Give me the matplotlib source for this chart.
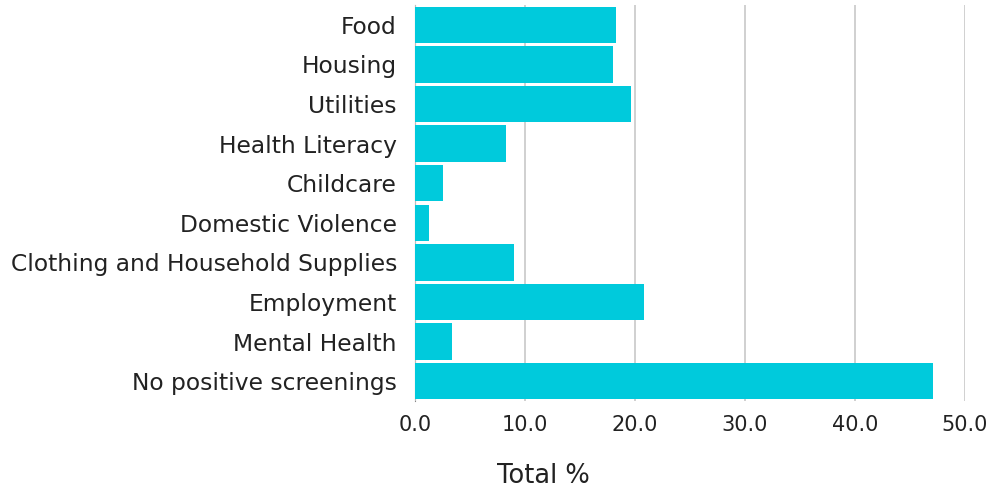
import matplotlib.pyplot as plt

# categories top to bottom, values in percent
categories = ['Food', 'Housing', 'Utilities', 'Health Literacy', 'Childcare',
              'Domestic Violence', 'Clothing and Household Supplies',
              'Employment', 'Mental Health', 'No positive screenings']
values = [18.3, 18.0, 19.6, 8.3, 2.5, 1.3, 9.0, 20.8, 3.4, 47.1]
xticks = [0, 10, 20, 30, 40, 50]

plt.rcParams['font.family'] = ['DejaVu Sans']

fig = plt.figure(figsize=(9.87, 4.91), dpi=100)
ax = fig.add_axes([0.4205, 0.1833, 0.5572, 0.8065])

ypos = list(range(len(categories)))
ax.barh(ypos, values, height=0.92, color='#00CADC', zorder=3)

ax.set_ylim(len(categories) - 0.5, -0.5)
ax.set_xlim(0, 50)
ax.set_yticks(ypos)
ax.set_yticklabels(categories, fontsize=16.8, color='#222222')
ax.set_xticks(xticks)
ax.set_xticklabels([f'{t:.1f}' for t in xticks], fontsize=15, color='#222222')
ax.tick_params(axis='both', length=0)
ax.tick_params(axis='y', pad=13)
ax.tick_params(axis='x', pad=10)

ax.grid(axis='x', color='#c8c8c8', linewidth=1.2, zorder=0)
for side in ['top', 'right', 'bottom']:
    ax.spines[side].set_visible(False)
ax.spines['left'].set_color('#888888')
ax.spines['left'].set_zorder(1)

ax.set_xlabel('Total %', fontsize=18.5, color='#222222')
ax.xaxis.set_label_coords(0.233, -0.19)
ax.xaxis.label.set_verticalalignment('center')

fig.savefig('out.png', dpi=100)
